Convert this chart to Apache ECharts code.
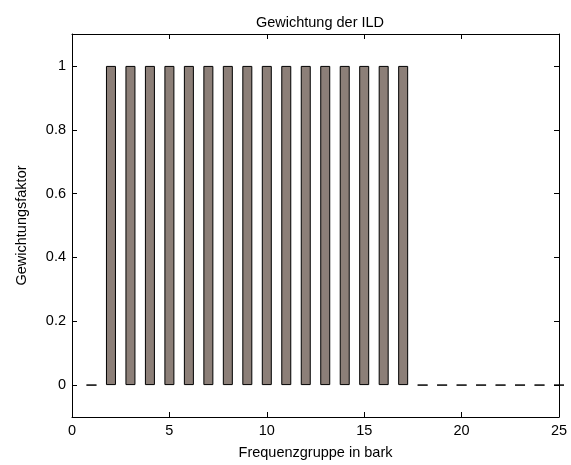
<!DOCTYPE html>
<html><head><meta charset="utf-8">
<script src="https://cdn.jsdelivr.net/npm/echarts@6/dist/echarts.min.js"></script>
<style>html,body{margin:0;padding:0;background:#fff}#c{width:571px;height:465px}</style>
</head><body><div id="c"></div>
<script>
const bands = [1,2,3,4,5,6,7,8,9,10,11,12,13,14,15,16,17,18,19,20,21,22,23,24,25];
const weights = [0,1,1,1,1,1,1,1,1,1,1,1,1,1,1,1,1,0,0,0,0,0,0,0,0];
const yTicks = [0,0.2,0.4,0.6,0.8,1];
const xTicks = [0,5,10,15,20,25];
const titleText = 'Gewichtung der ILD';
const xName = 'Frequenzgruppe in bark';
const yName = 'Gewichtungsfaktor';

const chart = echarts.init(document.getElementById('c'), null, {renderer:'canvas'});
const font = 'Liberation Sans, Arial, sans-serif';
const fs = 14.5;
const lineStyle = {color:'#000', width:1};
function mkX(pos, show){
  return {type:'value', position:pos, min:0, max:25, interval:5,
    axisLine:{show:true, onZero:false, lineStyle},
    axisTick:{show:true, inside:true, length:5, lineStyle, customValues:xTicks},
    axisLabel:{show:show, color:'#000', fontSize:fs, fontFamily:font, margin:6, customValues:xTicks},
    splitLine:{show:false},
    name: show? xName : '', nameLocation:'middle', nameGap:28,
    nameTextStyle:{color:'#000', fontSize:fs, fontFamily:font}};
}
function mkY(pos, show){
  return {type:'value', position:pos, min:-0.1, max:1.1,
    axisLine:{show:true, onZero:false, lineStyle},
    axisTick:{show:true, inside:true, length:5, lineStyle, customValues:yTicks},
    axisLabel:{show:show, color:'#000', fontSize:fs, fontFamily:font, margin:6, customValues:yTicks,
      formatter: v => String(Math.round(v*10)/10)},
    splitLine:{show:false},
    name: show? yName : '', nameLocation:'middle', nameGap:43,
    nameTextStyle:{color:'#000', fontSize:fs, fontFamily:font}};
}
chart.setOption({
  animation:false,
  backgroundColor:'#fff',
  title:{text:titleText, left:315, textAlign:'center', top:10,
    textStyle:{color:'#000', fontSize:fs, fontWeight:'normal', fontFamily:font}},
  grid:{left:72, right:12, top:34, bottom:46, containLabel:false},
  xAxis:[mkX('bottom', true), mkX('top', false)],
  yAxis:[mkY('left', true), mkY('right', false)],
  series:[{type:'bar', xAxisIndex:0, yAxisIndex:0,
    data: bands.map((b,i)=>[b, weights[i]]),
    barWidth:10,
    itemStyle:{color:'#8c7f78', borderColor:'#000', borderWidth:1},
    clip:true}]
});
</script></body></html>
